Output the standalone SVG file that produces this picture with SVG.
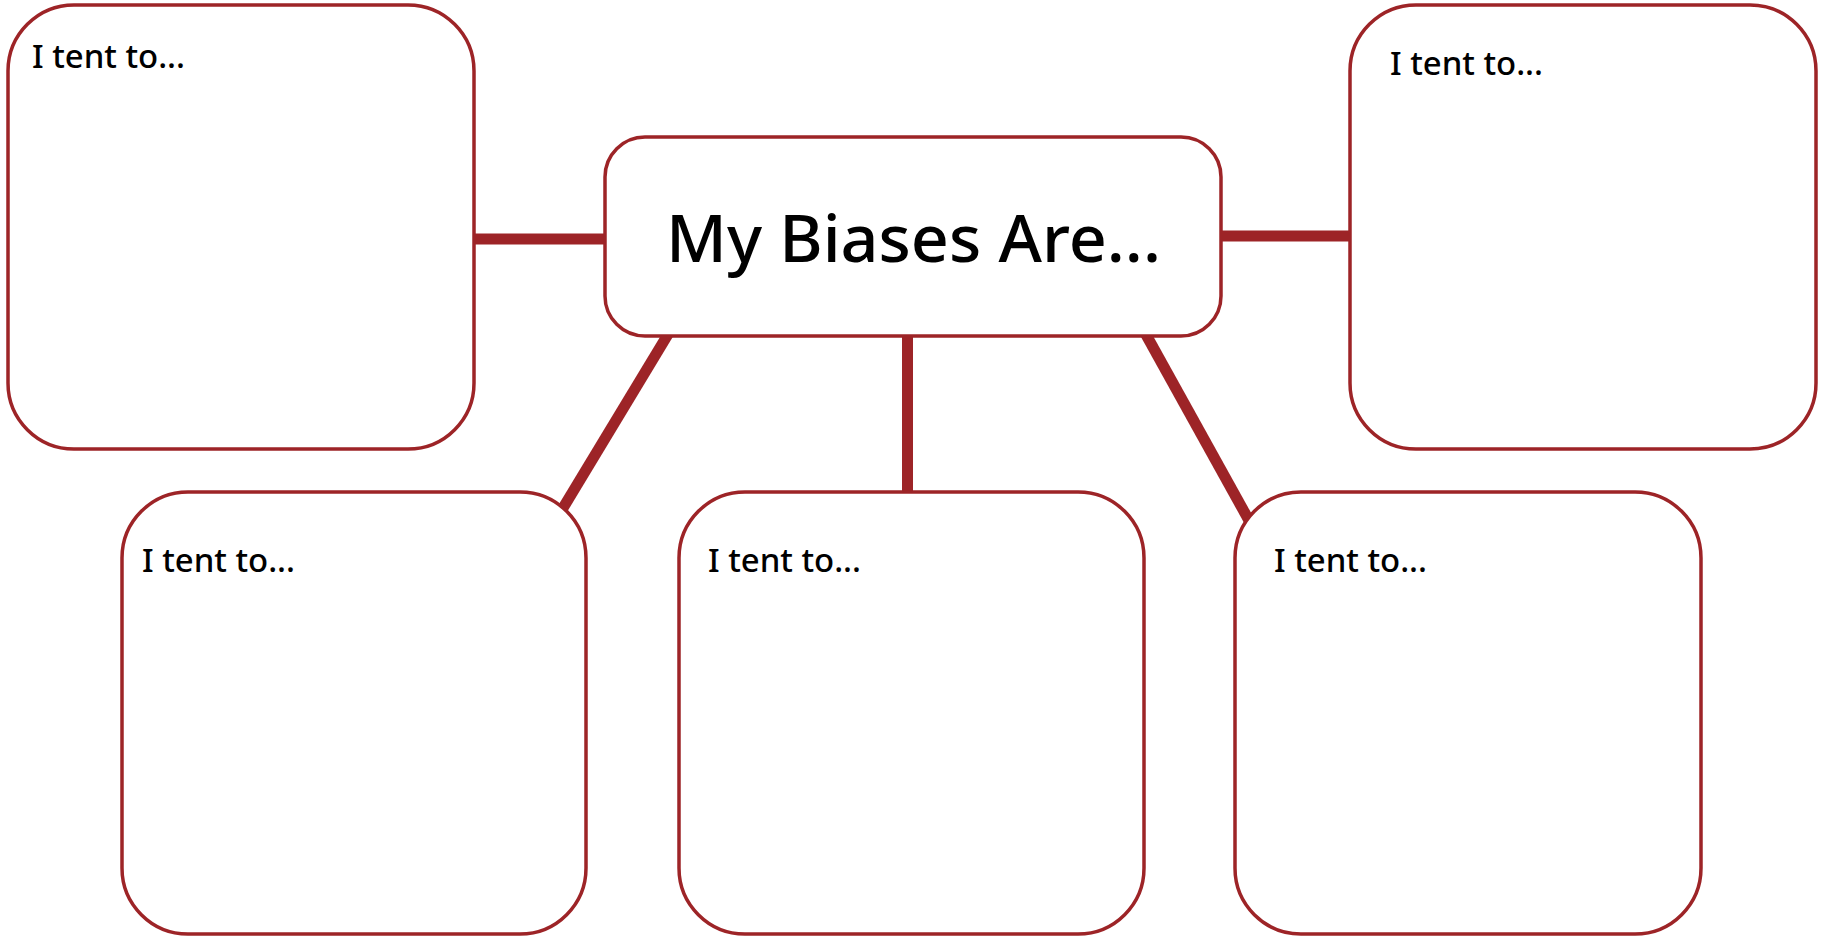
<svg xmlns="http://www.w3.org/2000/svg" width="1821" height="937" viewBox="0 0 1821 937">
  <style>
    .box { fill: #ffffff; stroke: #9d2427; stroke-width: 3.5; }
    .conn { stroke: #9d2427; stroke-width: 11; fill: none; }
    .lbl { font-family: "Noto Sans", "Liberation Sans", sans-serif; font-size: 32px; font-weight: 500; fill: #000000; }
    .title { font-family: "Noto Sans", "Liberation Sans", sans-serif; font-size: 66px; font-weight: 500; fill: #000000; }
  </style>
  <rect width="1821" height="937" fill="#ffffff"/>
  <g id="connectors">
    <line class="conn" x1="470" y1="239" x2="610" y2="239"/>
    <line class="conn" x1="1216" y1="236" x2="1354" y2="236"/>
    <line class="conn" x1="670" y1="331" x2="560" y2="513"/>
    <line class="conn" x1="907.5" y1="331" x2="907.5" y2="496"/>
    <line class="conn" x1="1144" y1="331" x2="1251" y2="524"/>
  </g>
  <g id="node-top-left">
    <rect class="box" x="8" y="5" width="466" height="444" rx="66" ry="66"/>
    <text class="lbl" x="32" y="68" textLength="153" lengthAdjust="spacingAndGlyphs">I tent to...</text>
  </g>
  <g id="node-top-right">
    <rect class="box" x="1350" y="5" width="466" height="444" rx="66" ry="66"/>
    <text class="lbl" x="1390" y="75" textLength="153" lengthAdjust="spacingAndGlyphs">I tent to...</text>
  </g>
  <g id="node-center">
    <rect class="box" x="605" y="137" width="616" height="199" rx="40" ry="40"/>
    <text class="title" x="913.5" y="262" text-anchor="middle" textLength="495" lengthAdjust="spacingAndGlyphs">My Biases Are...</text>
  </g>
  <g id="node-bottom-left">
    <rect class="box" x="122" y="492" width="464" height="442" rx="66" ry="66"/>
    <text class="lbl" x="142" y="572" textLength="153" lengthAdjust="spacingAndGlyphs">I tent to...</text>
  </g>
  <g id="node-bottom-middle">
    <rect class="box" x="679" y="492" width="465" height="442" rx="66" ry="66"/>
    <text class="lbl" x="708" y="572" textLength="153" lengthAdjust="spacingAndGlyphs">I tent to...</text>
  </g>
  <g id="node-bottom-right">
    <rect class="box" x="1235" y="492" width="466" height="442" rx="66" ry="66"/>
    <text class="lbl" x="1274" y="572" textLength="153" lengthAdjust="spacingAndGlyphs">I tent to...</text>
  </g>
</svg>
